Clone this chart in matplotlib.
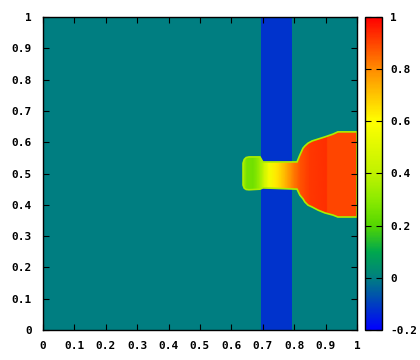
import numpy as np
import matplotlib
matplotlib.use("Agg")
import matplotlib.pyplot as plt
from matplotlib.colors import LinearSegmentedColormap, Normalize
from matplotlib.patches import Polygon

# field values
background_value = 0.0
bar_x = [0.695, 0.792]
bar_value = -0.12

# blob outline (x, top y, bottom y)
blob_x = [0.637, 0.641, 0.647, 0.656, 0.691, 0.700, 0.809, 0.818, 0.828, 0.834,
          0.844, 0.857, 0.876, 0.898, 0.924, 0.939, 1.0]
blob_top = [0.533, 0.545, 0.551, 0.553, 0.553, 0.537, 0.537, 0.559, 0.581, 0.588,
            0.597, 0.604, 0.610, 0.617, 0.626, 0.633, 0.633]
blob_bot = [0.463, 0.453, 0.449, 0.448, 0.450, 0.454, 0.450, 0.431, 0.419, 0.409,
            0.399, 0.393, 0.383, 0.374, 0.367, 0.361, 0.361]

# value along the blob
profile_x = [0.637, 0.650, 0.670, 0.690, 0.705, 0.720, 0.740, 0.760, 0.780,
             0.800, 0.820, 0.850, 0.903, 0.907, 1.0]
profile_value = [0.34, 0.26, 0.25, 0.33, 0.45, 0.56, 0.63, 0.69, 0.76,
                 0.83, 0.88, 0.92, 0.93, 0.90, 0.90]

ticks = [0, 0.1, 0.2, 0.3, 0.4, 0.5, 0.6, 0.7, 0.8, 0.9, 1]
tick_labels = ["0", "0.1", "0.2", "0.3", "0.4", "0.5", "0.6", "0.7", "0.8", "0.9", "1"]
cb_ticks = [-0.2, 0, 0.2, 0.4, 0.6, 0.8, 1]
cb_labels = ["-0.2", "0", "0.2", "0.4", "0.6", "0.8", "1"]

plt.rcParams['font.family'] = 'DejaVu Sans Mono'
plt.rcParams['font.weight'] = 'bold'
plt.rcParams['font.size'] = 8

stops = [(-0.2, (0, 0, 1)), (0.0, (0, 0.5, 0.5)), (0.1, (0, 0.66, 0.3)),
         (0.2, (0.33, 0.84, 0)), (0.3, (0.55, 0.92, 0)), (0.4, (0.75, 0.95, 0)),
         (0.6, (1, 1, 0)), (0.8, (1, 0.55, 0)), (1.0, (1, 0, 0))]
cmap = LinearSegmentedColormap.from_list(
    "pal", [((v + 0.2) / 1.2, c) for v, c in stops])
norm = Normalize(-0.2, 1)

fig = plt.figure(figsize=(4.2, 3.6), dpi=100)
ax = fig.add_axes([43/420, 30/360, 314/420, 313/360])
ax.set_facecolor(cmap(norm(background_value)))
ax.axvspan(bar_x[0], bar_x[1], color=cmap(norm(bar_value)), lw=0)

X = np.array([profile_x, profile_x])
Y = np.array([[0.3] * len(profile_x), [0.7] * len(profile_x)])
C = np.array([profile_value, profile_value])
mesh = ax.pcolormesh(X, Y, C, cmap=cmap, norm=norm, shading='gouraud')

outline = list(zip(blob_x, blob_top)) + list(zip(blob_x[::-1], blob_bot[::-1]))
poly = Polygon(outline, closed=True, facecolor='none',
               edgecolor=cmap(norm(0.36)), lw=1.2)
ax.add_patch(poly)
mesh.set_clip_path(poly)

ax.set_xlim(0, 1)
ax.set_ylim(0, 1)
ax.set_xticks(ticks)
ax.set_xticklabels(tick_labels)
ax.set_yticks(ticks)
ax.set_yticklabels(tick_labels)
ax.tick_params(direction='in', length=4, width=0.8, top=True, right=True, pad=8)
for s in ax.spines.values():
    s.set_linewidth(1)

cax = fig.add_axes([365/420, 30/360, 17/420, 313/360])
cb = fig.colorbar(plt.cm.ScalarMappable(norm=norm, cmap=cmap), cax=cax)
cb.set_ticks(cb_ticks)
cb.set_ticklabels(cb_labels)
cax.tick_params(direction='in', length=4, width=0.8, left=True, right=True, pad=6)
cb.outline.set_linewidth(1)

fig.savefig("out.png", dpi=100)
